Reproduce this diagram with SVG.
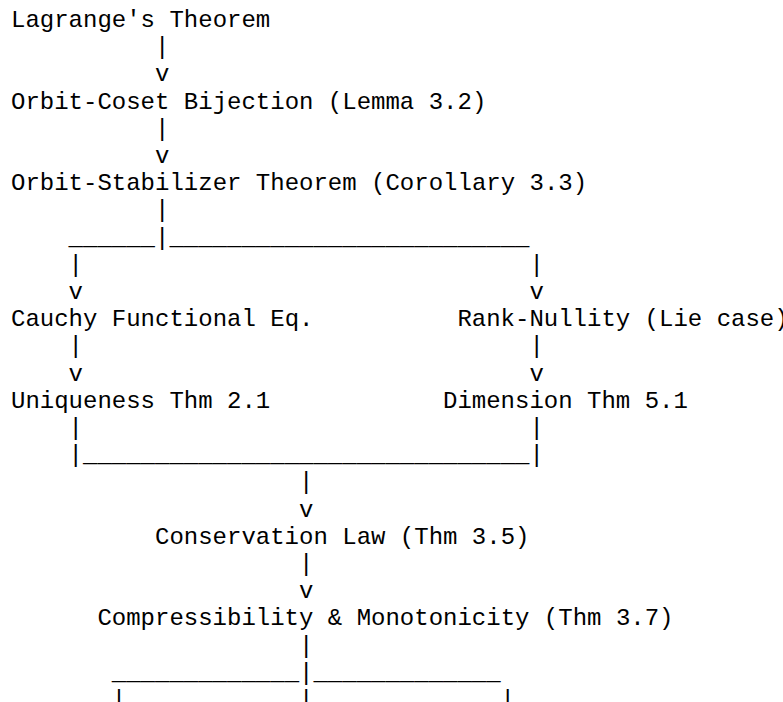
<svg xmlns="http://www.w3.org/2000/svg" width="783" height="702" viewBox="0 0 783 702">
<style>
text{font-family:"Liberation Mono","Courier New",monospace;font-size:24px;fill:#000;white-space:pre}
</style>
<rect width="783" height="702" fill="#fff"/>
<g id="connectors">
<text x="155" y="54.2">|</text>
<text x="155" y="81.4">v</text>
<text x="155" y="135.8">|</text>
<text x="155" y="163">v</text>
<text x="155" y="217.4">|</text>
<text x="68.6" y="244.6">______|_________________________</text>
<text x="68.6" y="271.8">|</text>
<text x="529.4" y="271.8">|</text>
<text x="68.6" y="299">v</text>
<text x="529.4" y="299">v</text>
<text x="68.6" y="353.4">|</text>
<text x="529.4" y="353.4">|</text>
<text x="68.6" y="380.6">v</text>
<text x="529.4" y="380.6">v</text>
<text x="68.6" y="435">|</text>
<text x="529.4" y="435">|</text>
<text x="68.6" y="462.2">|_______________________________|</text>
<text x="299" y="489.4">|</text>
<text x="299" y="516.6">v</text>
<text x="299" y="571">|</text>
<text x="299" y="598.2">v</text>
<text x="299" y="652.6">|</text>
<text x="111.8" y="679.8">_____________|_____________</text>
<text x="111.8" y="707">|</text>
<text x="299" y="707">|</text>
<text x="500.6" y="707">|</text>
</g>
<g id="lagrange"><text x="11" y="27">Lagrange's Theorem</text></g>
<g id="orbit-coset"><text x="11" y="108.6">Orbit-Coset Bijection (Lemma 3.2)</text></g>
<g id="orbit-stabilizer"><text x="11" y="190.2">Orbit-Stabilizer Theorem (Corollary 3.3)</text></g>
<g id="cauchy"><text x="11" y="326.2">Cauchy Functional Eq.</text></g>
<g id="rank-nullity"><text x="457.4" y="326.2">Rank-Nullity (Lie case)</text></g>
<g id="uniqueness"><text x="11" y="407.8">Uniqueness Thm 2.1</text></g>
<g id="dimension"><text x="443" y="407.8">Dimension Thm 5.1</text></g>
<g id="conservation"><text x="155" y="543.8">Conservation Law (Thm 3.5)</text></g>
<g id="compressibility"><text x="97.4" y="625.4">Compressibility &amp; Monotonicity (Thm 3.7)</text></g>
</svg>
